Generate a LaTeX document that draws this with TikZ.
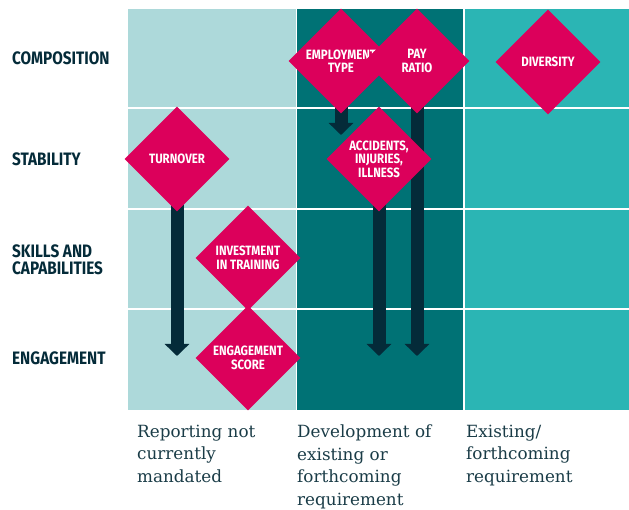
\documentclass[tikz,border=0pt]{standalone}
\usepackage{fontspec}
\usetikzlibrary{shapes.geometric, arrows.meta, positioning, backgrounds}
\setmainfont{DejaVu Serif}
\newfontfamily\headfont[FakeStretch=0.85]{Fira Sans}
\definecolor{PaleTeal}{HTML}{ADD9DA}
\definecolor{DeepTeal}{HTML}{007275}
\definecolor{BrightTeal}{HTML}{2BB5B4}
\definecolor{Crimson}{HTML}{DC005B}
\definecolor{Ink}{HTML}{042B39}
\definecolor{SlateText}{HTML}{1A3C47}

\tikzset{
  metric/.style={shape=diamond, fill=Crimson, minimum size=105pt, inner sep=0pt,
                 align=center, text=white, font=\headfont\bfseries\fontsize{13.5}{13.5}\selectfont},
  rowlabel/.style={anchor=west, inner sep=0pt, align=left, text=Ink,
                   font=\headfont\bfseries\fontsize{18}{17}\selectfont},
  collabel/.style={anchor=north west, inner sep=0pt, align=left, text=SlateText,
                   font=\fontsize{16.8}{22.4}\selectfont},
  dropline/.style={Ink, line width=13pt, -{Triangle[width=24pt, length=12pt]}}
}

\begin{document}
\begin{tikzpicture}[x=1pt, y=-1pt]
    \useasboundingbox (0,0) rectangle (629,510);

    % metrics
    \node[metric] (emptype) at (341,61) {EMPLOYMENT\\TYPE};
    \node[metric] (payratio) at (417,61) {PAY\\RATIO};
    \node[metric] (diversity) at (548,62) {DIVERSITY};
    \node[metric] (turnover) at (177,159) {TURNOVER};
    \node[metric] (accidents) at (379,159) {ACCIDENTS,\\INJURIES,\\ILLNESS};
    \node[metric] (training) at (248,258) {INVESTMENT\\IN TRAINING};
    \node[metric] (engscore) at (248,358) {ENGAGEMENT\\SCORE};

    % row labels
    \node[rowlabel] (composition) at (12,58) {COMPOSITION};
    \node[rowlabel] (stability) at (12,159) {STABILITY};
    \node[rowlabel] (skills) at (12,260) {SKILLS AND\\CAPABILITIES};
    \node[rowlabel] (engagement) at (12,358) {ENGAGEMENT};

    % column labels
    \node[collabel] (notmandated) at (137,425) {Reporting not\\currently\\mandated};
    \node[collabel] (developing) at (297,425) {Development of\\existing or\\forthcoming\\requirement};
    \node[collabel] (existing) at (466,425) {Existing/\\forthcoming\\requirement};

    \coordinate (emptip) at (341,135);
    \coordinate (paytip) at (417,356);
    \coordinate (turnovertip) at (177,356);
    \coordinate (accidentstip) at (379,356);

    \begin{scope}[on background layer]
        \fill[PaleTeal] (128,9) rectangle (295.5,410);
        \fill[DeepTeal] (296.5,9) rectangle (463,410);
        \fill[BrightTeal] (465,9) rectangle (629,410);
        \foreach \y in {108.5, 209, 309} {
            \draw[white, line width=2pt] (128,\y) -- (629,\y);
        }
        \draw[dropline] (emptype.center) -- (emptip);
        \draw[dropline] (payratio.center) -- (paytip);
        \draw[dropline] (turnover.center) -- (turnovertip);
        \draw[dropline] (accidents.center) -- (accidentstip);
    \end{scope}
\end{tikzpicture}
\end{document}
